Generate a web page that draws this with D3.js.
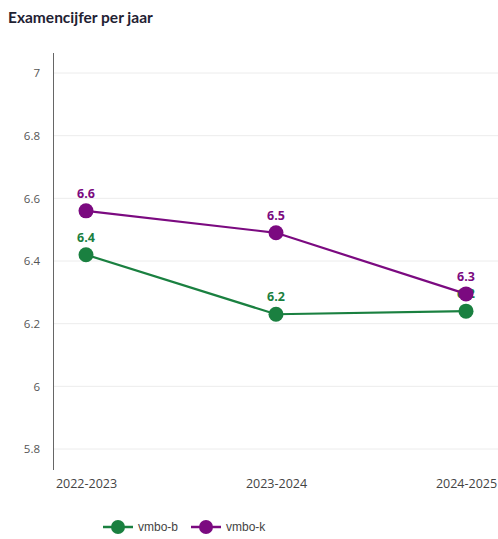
<!DOCTYPE html>
<html>
<head>
<meta charset="utf-8">
<script src="https://cdn.jsdelivr.net/npm/d3@7"></script>
<style>
  html, body { margin: 0; padding: 0; background: #fff; }
  svg { display: block; font-family: "Open Sans", "Noto Sans", sans-serif; }
</style>
</head>
<body>
<svg id="chart" width="498" height="539"></svg>
<script>
// Exam grades per school year for two vmbo tracks
const years = ["2022-2023", "2023-2024", "2024-2025"];
const vmboB = [6.42, 6.23, 6.24];
const vmboK = [6.56, 6.49, 6.295];
const yTicks = [5.8, 6, 6.2, 6.4, 6.6, 6.8, 7];
const seriesNames = ["vmbo-b", "vmbo-k"];
const seriesColors = ["#1a8040", "#7b0a80"];

const series = [
  { name: seriesNames[0], color: seriesColors[0], values: vmboB },
  { name: seriesNames[1], color: seriesColors[1], values: vmboK }
];

const svg = d3.select("#chart");
const W = 498;

svg.append("text")
  .attr("x", 8).attr("y", 23)
  .attr("font-size", 15.5).attr("font-weight", 700)
  .attr("font-family", "Lato, 'Open Sans', sans-serif")
  .attr("fill", "#1f2233")
  .text("Examencijfer per jaar");

const x = d3.scalePoint().domain(years).range([86, 466]);
const y = d3.scaleLinear().domain([5.8, 7]).range([449, 73]);

// horizontal grid
svg.append("g")
  .selectAll("line")
  .data(yTicks)
  .join("line")
  .attr("x1", 54).attr("x2", W)
  .attr("y1", d => y(d)).attr("y2", d => y(d))
  .attr("stroke", "#ececec").attr("stroke-width", 1);

// y axis
const yAxis = svg.append("g")
  .attr("transform", "translate(53,0)")
  .call(d3.axisLeft(y).tickValues(yTicks).tickSize(0).tickPadding(13).tickFormat(d3.format("")));
yAxis.select(".domain").remove();
yAxis.selectAll("text").attr("font-size", 11.5).attr("fill", "#555").attr("font-family", "'Open Sans', sans-serif");
svg.append("line")
  .attr("x1", 53.5).attr("x2", 53.5).attr("y1", 53).attr("y2", 470)
  .attr("stroke", "#666").attr("stroke-width", 1);

// x axis labels
const xAxis = svg.append("g")
  .attr("transform", "translate(0,470)")
  .call(d3.axisBottom(x).tickSize(0).tickPadding(9));
xAxis.select(".domain").remove();
xAxis.selectAll("text").attr("font-size", 12.5).attr("fill", "#444").attr("font-family", "'Open Sans', sans-serif");

const line = d3.line().x((d, i) => x(years[i])).y(d => y(d));
const fmt = d3.format(".1f");

series.forEach(s => {
  const g = svg.append("g");
  g.append("path")
    .attr("d", line(s.values))
    .attr("fill", "none").attr("stroke", s.color).attr("stroke-width", 2.2);
  g.selectAll("text")
    .data(s.values)
    .join("text")
    .attr("x", (d, i) => x(years[i]))
    .attr("y", d => y(d) - 13)
    .attr("text-anchor", "middle")
    .attr("font-size", 12.5).attr("font-weight", 700)
    .attr("fill", s.color)
    .text(d => fmt(d));
  g.selectAll("circle")
    .data(s.values)
    .join("circle")
    .attr("cx", (d, i) => x(years[i]))
    .attr("cy", d => y(d))
    .attr("r", 7.5)
    .attr("fill", s.color);
});

// legend
const legend = svg.append("g").attr("transform", "translate(0,527)");
const legendX = [103, 191];
series.forEach((s, i) => {
  const lg = legend.append("g").attr("transform", `translate(${legendX[i]},0)`);
  lg.append("line").attr("x1", 0).attr("x2", 30).attr("y1", 0).attr("y2", 0)
    .attr("stroke", s.color).attr("stroke-width", 2.5);
  lg.append("circle").attr("cx", 15).attr("cy", 0).attr("r", 7).attr("fill", s.color);
  lg.append("text").attr("x", 35).attr("y", 4)
    .attr("font-size", 12).attr("fill", "#444")
    .attr("font-family", "'Liberation Sans', Arial, sans-serif")
    .text(s.name);
});
</script>
</body>
</html>
